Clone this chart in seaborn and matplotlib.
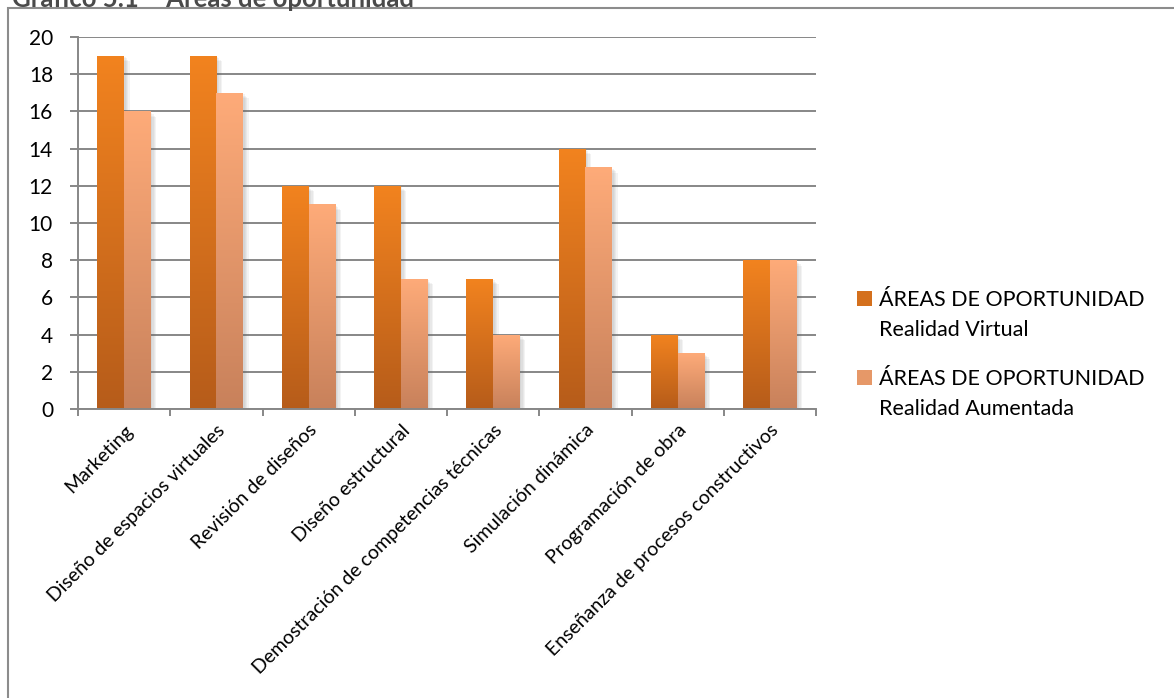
import numpy as np
import pandas as pd
import matplotlib
matplotlib.use("Agg")
import matplotlib.pyplot as plt
import matplotlib.patheffects as pe
from matplotlib.colors import LinearSegmentedColormap
from matplotlib.patches import Rectangle
import seaborn as sns

# ---- data -------------------------------------------------------------
categorias = [
    "Marketing",
    "Diseño de espacios virtuales",
    "Revisión de diseños",
    "Diseño estructural",
    "Demostración de competencias técnicas",
    "Simulación dinámica",
    "Programación de obra",
    "Enseñanza de procesos constructivos",
]
realidad_virtual = [19, 19, 12, 12, 7, 14, 4, 8]
realidad_aumentada = [16, 17, 11, 7, 4, 13, 3, 8]
series = [
    "ÁREAS DE OPORTUNIDAD\nRealidad Virtual",
    "ÁREAS DE OPORTUNIDAD\nRealidad Aumentada",
]
y_ticks = list(range(0, 21, 2))
titulo = "Gráfico 5.1 – Áreas de oportunidad"

df = pd.DataFrame({
    "categoria": categorias * 2,
    "valor": realidad_virtual + realidad_aumentada,
    "serie": [series[0]] * len(categorias) + [series[1]] * len(categorias),
})

# ---- style --------------------------------------------------------------
sns.set_theme(style="white")
plt.rcParams["font.family"] = ["Lato", "DejaVu Sans"]

GRID = "#878787"
gradients = [("#F2831F", "#B65C1A"),   # top, bottom
             ("#FEAB79", "#C8815B")]
palette = {series[0]: "#D4701D", series[1]: "#E69868"}

W, H = 1174, 698
fig = plt.figure(figsize=(W / 100, H / 100), dpi=100)
ax = fig.add_axes([78 / W, 1 - 409 / H, (816 - 78) / W, (409 - 37) / H])

sns.barplot(data=df, x="categoria", y="valor", hue="serie", palette=palette,
            width=0.58, order=categorias, hue_order=series, ax=ax,
            legend=False, saturation=1, linewidth=0)

# soft drop shadow built from a few faint offset copies
shadow = [pe.SimplePatchShadow(offset=(d, -d), shadow_rgbFace="#606060", alpha=0.07)
          for d in (1, 2, 3, 4)] + [pe.Normal()]

# per-bar vertical gradient, clipped to each bar
grad = np.linspace(0, 1, 256).reshape(-1, 1)
for container, (top, bottom) in zip(ax.containers, gradients):
    cmap = LinearSegmentedColormap.from_list("g", [top, bottom])
    for bar in container:
        x, y0 = bar.get_x(), bar.get_y()
        w, h = bar.get_width(), bar.get_height()
        bar.set_path_effects(shadow)
        im = ax.imshow(grad, cmap=cmap, aspect="auto", origin="upper",
                       extent=[x, x + w, y0, y0 + h], zorder=bar.get_zorder() + 0.1,
                       interpolation="bilinear")
        im.set_clip_path(bar)

ax.set_xlim(-0.5, len(categorias) - 0.5)
ax.set_ylim(0, 20)
ax.set_yticks(y_ticks)
ax.set_xlabel("")
ax.set_ylabel("")

# gridlines and axis lines
ax.set_axisbelow(True)
ax.yaxis.grid(True, color=GRID, linewidth=1.4)
ax.xaxis.grid(False)
for side in ["top", "right"]:
    ax.spines[side].set_visible(False)
for side in ["left", "bottom"]:
    ax.spines[side].set_color(GRID)
    ax.spines[side].set_linewidth(1.4)

ax.tick_params(axis="y", which="major", direction="out", length=6, width=1.4,
               color=GRID, left=True, labelsize=15, labelcolor="black", pad=12)
# category labels at centres, tick marks at category boundaries
ax.set_xticks(np.arange(len(categorias)))
ax.set_xticks(np.arange(-0.5, len(categorias)), minor=True)
ax.tick_params(axis="x", which="major", length=0, labelsize=14,
               labelcolor="black", pad=9)
ax.tick_params(axis="x", which="minor", direction="out", length=5, width=1.4,
               color=GRID, bottom=True)
ax.set_xticklabels(categorias, rotation=45, ha="right", rotation_mode="anchor")

# legend: square key beside the first line of each two-line label
legend_font = 15.5
for i, (serie, (top, bottom)) in enumerate(zip(series, gradients)):
    y_top = 291 + i * 79
    key = Rectangle((857 / W, 1 - (y_top + 15) / H), 15 / W, 15 / H,
                    transform=fig.transFigure, facecolor=palette[serie],
                    edgecolor="none")
    fig.add_artist(key)
    line1, line2 = serie.split("\n")
    fig.text(879 / W, 1 - (y_top + 15) / H, line1, fontsize=legend_font,
             color="black", va="baseline", ha="left")
    fig.text(879 / W, 1 - (y_top + 45) / H, line2, fontsize=legend_font,
             color="black", va="baseline", ha="left")

# chart frame and title
fig.add_artist(Rectangle((8 / W, -0.1), 1.2, 1.1 - 8.5 / H, transform=fig.transFigure,
                         fill=False, edgecolor="#8c8c8c", linewidth=1.5))
fig.text(12 / W, 1 - 7 / H, titulo, fontsize=18.5, fontweight="bold",
         color="#4a4a4a", va="baseline", ha="left")

fig.savefig("out.png", dpi=100)
